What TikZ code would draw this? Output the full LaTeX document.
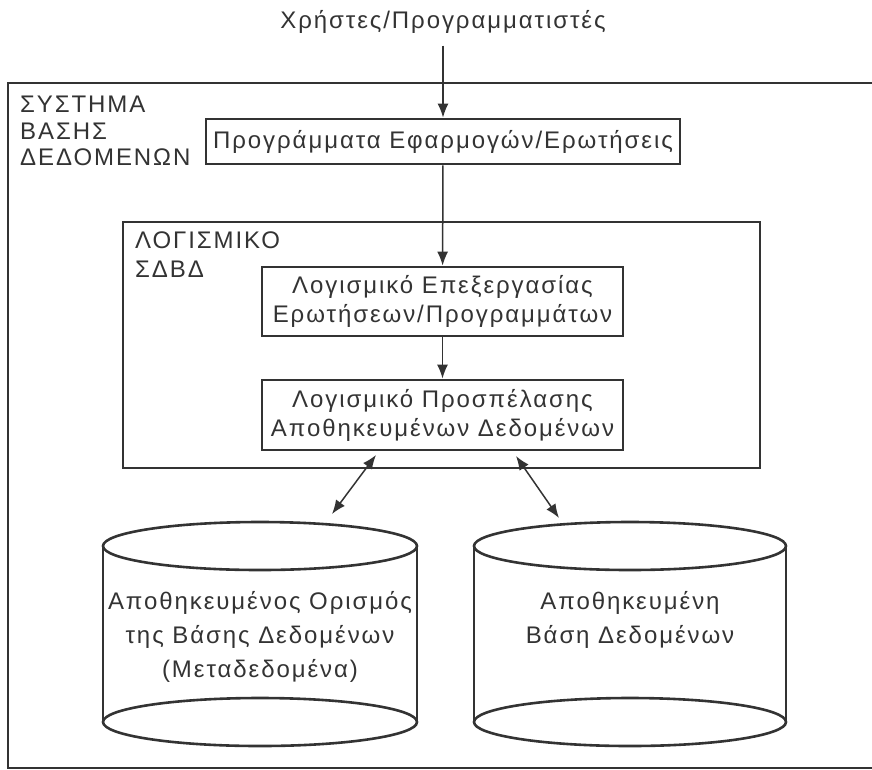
\documentclass[tikz,border=0pt]{standalone}
\usepackage{fontspec}
\setmainfont[LetterSpace=8]{Liberation Sans}
\usetikzlibrary{arrows.meta}

\definecolor{ink}{HTML}{333333}

\begin{document}
\begin{tikzpicture}[x = 1pt, y = -1pt, > = {Latex[length=14pt, width=11pt]},
	every node/.style = {font=\fontsize{24}{29}\selectfont, inner sep=0pt, text=ink},
	frame/.style = {draw=ink, line width=2.6pt},
	box/.style = {draw=ink, line width=2.8pt, align=center},
	link/.style = {draw=ink, line width=1.5pt},
	label/.style = {anchor=north west, align=left},
	storetext/.style = {align=center, font=\fontsize{24}{34}\selectfont}]

	\useasboundingbox (0, 0) rectangle (872, 769);

	% Outer frame and its title

	\draw [frame] (8, 83) rectangle (880, 768);
	\node [label, font=\fontsize{24}{26.5}\selectfont] (systitle) at (20, 96) {ΣΥΣΤΗΜΑ\\ΒΑΣΗΣ\\ΔΕΔΟΜΕΝΩΝ};

	% Users and the applications

	\node (users) at (443, 22) {Χρήστες/Προγραμματιστές};
	\node [box, minimum width=474pt, minimum height=45pt] (apps) at (443, 141.5) {Προγράμματα Εφαρμογών/Ερωτήσεις};

	% DBMS software

	\node [frame, minimum width=637pt, minimum height=246pt] (dbms) at (441.5, 345) {};
	\node [label] (dbmstitle) at (135, 232) {ΛΟΓΙΣΜΙΚΟ\\ΣΔΒΔ};

	\node [box, minimum width=361pt, minimum height=69pt] (query) at (442.5, 301.5) {Λογισμικό Επεξεργασίας\\Ερωτήσεων/Προγραμμάτων};
	\node [box, minimum width=361pt, minimum height=70pt] (access) at (442.5, 415) {Λογισμικό Προσπέλασης\\Αποθηκευμένων Δεδομένων};

	% The two stores

	\foreach \cx/\rx in {260/157, 630/156} {
		\draw [frame] (\cx, 546) ellipse [x radius=\rx, y radius=24];
		\draw [frame] (\cx, 722) ellipse [x radius=\rx, y radius=24];
		\draw [frame] (\cx - \rx, 546) -- (\cx - \rx, 722);
		\draw [frame] (\cx + \rx, 546) -- (\cx + \rx, 722);
	}

	\node [storetext] (meta) at (260, 637) {Αποθηκευμένος Ορισμός\\της Βάσης Δεδομένων\\(Μεταδεδομένα)};
	\node [storetext] (data) at (630, 620) {Αποθηκευμένη\\Βάση Δεδομένων};

	\coordinate (metalink) at (376, 455);
	\coordinate (metatop) at (332, 514);
	\coordinate (datalink) at (516, 456);
	\coordinate (datatop) at (559, 518);

	% Arrows

	\begin{scope}[link]

		\draw [->, shorten <=12pt] (users) -- (apps);
		\draw [->] (apps) -- (query);
		\draw [->] (query) -- (access);

		\draw [<->] (metalink) -- (metatop);
		\draw [<->] (datalink) -- (datatop);

	\end{scope}

\end{tikzpicture}
\end{document}
